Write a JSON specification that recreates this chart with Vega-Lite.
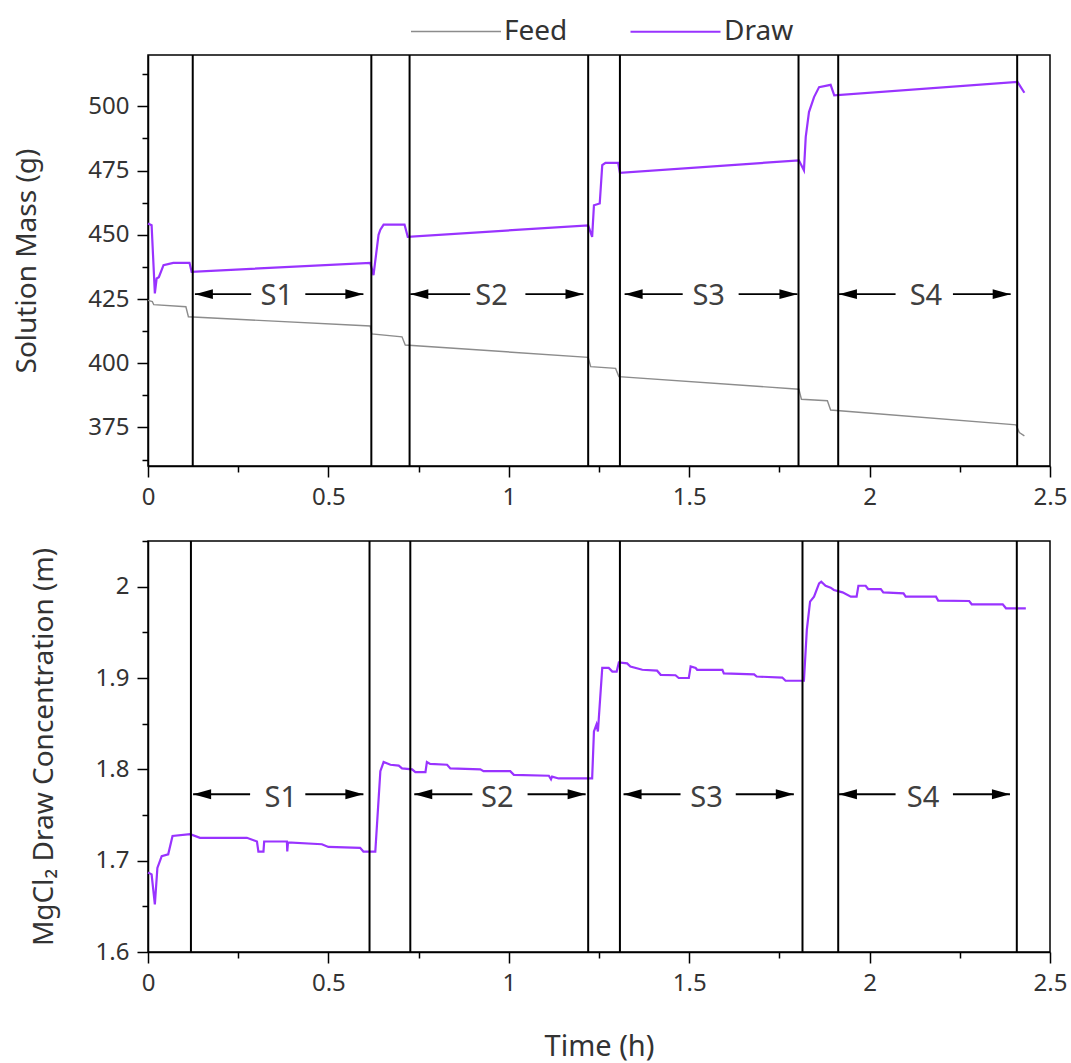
{
  "$schema": "https://vega.github.io/schema/vega-lite/v6.json",
  "padding": {"left": 13, "top": 15, "right": 3, "bottom": 0},
  "background": "white",
  "spacing": 18,
  "config": {
    "font": "Noto Sans",
    "view": {"stroke": "black", "strokeWidth": 1.5},
    "axis": {
      "domainColor": "black", "domainWidth": 1.5,
      "tickColor": "black", "tickWidth": 1.5,
      "labelFontSize": 24, "labelColor": "#333333", "labelPadding": 8,
      "labelFlush": false, "labelOverlap": false,
      "titleFontSize": 28, "titleFontWeight": "normal", "titleColor": "#333333",
      "grid": false
    }
  },
  "datasets": {
    "mass": [
      {"t": 0, "mass": 424.5, "series": "Feed"},
      {"t": 0.012, "mass": 424, "series": "Feed"},
      {"t": 0.016, "mass": 422.8, "series": "Feed"},
      {"t": 0.105, "mass": 422, "series": "Feed"},
      {"t": 0.112, "mass": 418.1, "series": "Feed"},
      {"t": 0.616, "mass": 414.5, "series": "Feed"},
      {"t": 0.62, "mass": 411.4, "series": "Feed"},
      {"t": 0.704, "mass": 410.3, "series": "Feed"},
      {"t": 0.713, "mass": 407.1, "series": "Feed"},
      {"t": 1.22, "mass": 402.3, "series": "Feed"},
      {"t": 1.227, "mass": 398.7, "series": "Feed"},
      {"t": 1.296, "mass": 398, "series": "Feed"},
      {"t": 1.305, "mass": 394.8, "series": "Feed"},
      {"t": 1.804, "mass": 389.9, "series": "Feed"},
      {"t": 1.811, "mass": 386, "series": "Feed"},
      {"t": 1.883, "mass": 385.4, "series": "Feed"},
      {"t": 1.892, "mass": 381.8, "series": "Feed"},
      {"t": 2.406, "mass": 376, "series": "Feed"},
      {"t": 2.415, "mass": 373, "series": "Feed"},
      {"t": 2.429, "mass": 371.7, "series": "Feed"},
      {"t": 0, "mass": 454.4, "series": "Draw"},
      {"t": 0.01, "mass": 453.7, "series": "Draw"},
      {"t": 0.019, "mass": 427.2, "series": "Draw"},
      {"t": 0.024, "mass": 433, "series": "Draw"},
      {"t": 0.03, "mass": 433.5, "series": "Draw"},
      {"t": 0.043, "mass": 438.2, "series": "Draw"},
      {"t": 0.07, "mass": 439.1, "series": "Draw"},
      {"t": 0.115, "mass": 439.1, "series": "Draw"},
      {"t": 0.121, "mass": 435.6, "series": "Draw"},
      {"t": 0.616, "mass": 439.1, "series": "Draw"},
      {"t": 0.625, "mass": 434.3, "series": "Draw"},
      {"t": 0.639, "mass": 450, "series": "Draw"},
      {"t": 0.644, "mass": 452, "series": "Draw"},
      {"t": 0.653, "mass": 454, "series": "Draw"},
      {"t": 0.711, "mass": 454, "series": "Draw"},
      {"t": 0.72, "mass": 449.2, "series": "Draw"},
      {"t": 1.22, "mass": 453.7, "series": "Draw"},
      {"t": 1.231, "mass": 449.2, "series": "Draw"},
      {"t": 1.236, "mass": 461.5, "series": "Draw"},
      {"t": 1.252, "mass": 462.2, "series": "Draw"},
      {"t": 1.259, "mass": 477.1, "series": "Draw"},
      {"t": 1.268, "mass": 478, "series": "Draw"},
      {"t": 1.303, "mass": 478, "series": "Draw"},
      {"t": 1.308, "mass": 474.1, "series": "Draw"},
      {"t": 1.804, "mass": 479, "series": "Draw"},
      {"t": 1.818, "mass": 475.1, "series": "Draw"},
      {"t": 1.823, "mass": 488.1, "series": "Draw"},
      {"t": 1.832, "mass": 497.8, "series": "Draw"},
      {"t": 1.846, "mass": 503.6, "series": "Draw"},
      {"t": 1.86, "mass": 507.5, "series": "Draw"},
      {"t": 1.892, "mass": 508.4, "series": "Draw"},
      {"t": 1.902, "mass": 504.3, "series": "Draw"},
      {"t": 2.41, "mass": 509.5, "series": "Draw"},
      {"t": 2.419, "mass": 507.5, "series": "Draw"},
      {"t": 2.429, "mass": 505.3, "series": "Draw"}
    ],
    "conc": [
      {"t": 0, "c": 1.687}, {"t": 0.01, "c": 1.685}, {"t": 0.019, "c": 1.652}, {"t": 0.026, "c": 1.692},
      {"t": 0.038, "c": 1.705}, {"t": 0.056, "c": 1.707}, {"t": 0.068, "c": 1.727}, {"t": 0.117, "c": 1.729},
      {"t": 0.144, "c": 1.725}, {"t": 0.274, "c": 1.725}, {"t": 0.302, "c": 1.721}, {"t": 0.306, "c": 1.71},
      {"t": 0.32, "c": 1.71}, {"t": 0.322, "c": 1.721}, {"t": 0.385, "c": 1.721}, {"t": 0.386, "c": 1.71},
      {"t": 0.388, "c": 1.72}, {"t": 0.482, "c": 1.718}, {"t": 0.5, "c": 1.715}, {"t": 0.588, "c": 1.714},
      {"t": 0.597, "c": 1.71}, {"t": 0.63, "c": 1.71}, {"t": 0.644, "c": 1.798}, {"t": 0.653, "c": 1.808},
      {"t": 0.672, "c": 1.805}, {"t": 0.695, "c": 1.804}, {"t": 0.704, "c": 1.801}, {"t": 0.732, "c": 1.8},
      {"t": 0.741, "c": 1.797}, {"t": 0.769, "c": 1.797}, {"t": 0.773, "c": 1.808}, {"t": 0.782, "c": 1.806},
      {"t": 0.829, "c": 1.805}, {"t": 0.838, "c": 1.801}, {"t": 0.921, "c": 1.8}, {"t": 0.93, "c": 1.798},
      {"t": 1.004, "c": 1.798}, {"t": 1.014, "c": 1.794}, {"t": 1.111, "c": 1.793}, {"t": 1.117, "c": 1.789},
      {"t": 1.12, "c": 1.792}, {"t": 1.138, "c": 1.79}, {"t": 1.231, "c": 1.79}, {"t": 1.236, "c": 1.8415},
      {"t": 1.243, "c": 1.849}, {"t": 1.247, "c": 1.8415}, {"t": 1.259, "c": 1.911}, {"t": 1.277, "c": 1.911},
      {"t": 1.287, "c": 1.907}, {"t": 1.299, "c": 1.907}, {"t": 1.305, "c": 1.917}, {"t": 1.328, "c": 1.916},
      {"t": 1.337, "c": 1.9126}, {"t": 1.37, "c": 1.909}, {"t": 1.411, "c": 1.908}, {"t": 1.421, "c": 1.9035},
      {"t": 1.462, "c": 1.903}, {"t": 1.471, "c": 1.9}, {"t": 1.499, "c": 1.9}, {"t": 1.504, "c": 1.9126},
      {"t": 1.518, "c": 1.911}, {"t": 1.522, "c": 1.909}, {"t": 1.592, "c": 1.909}, {"t": 1.596, "c": 1.905},
      {"t": 1.68, "c": 1.904}, {"t": 1.687, "c": 1.9016}, {"t": 1.758, "c": 1.9005}, {"t": 1.767, "c": 1.897},
      {"t": 1.818, "c": 1.897}, {"t": 1.826, "c": 1.9527}, {"t": 1.835, "c": 1.9836}, {"t": 1.846, "c": 1.989},
      {"t": 1.86, "c": 2.0036}, {"t": 1.866, "c": 2.0055}, {"t": 1.878, "c": 2.001}, {"t": 1.892, "c": 1.9989},
      {"t": 1.901, "c": 1.9964}, {"t": 1.925, "c": 1.9938}, {"t": 1.948, "c": 1.989}, {"t": 1.964, "c": 1.989},
      {"t": 1.969, "c": 2.001}, {"t": 1.989, "c": 2.001}, {"t": 1.996, "c": 1.9974}, {"t": 2.031, "c": 1.9974},
      {"t": 2.038, "c": 1.9938}, {"t": 2.094, "c": 1.9927}, {"t": 2.1, "c": 1.989}, {"t": 2.184, "c": 1.989},
      {"t": 2.19, "c": 1.9847}, {"t": 2.276, "c": 1.9843}, {"t": 2.283, "c": 1.9807}, {"t": 2.369, "c": 1.9807},
      {"t": 2.378, "c": 1.9763}, {"t": 2.433, "c": 1.9763}
    ],
    "bounds_top": [
      {"t": 0.124}, {"t": 0.619}, {"t": 0.725}, {"t": 1.22}, {"t": 1.308}, {"t": 1.803}, {"t": 1.913}, {"t": 2.409}
    ],
    "bounds_bot": [
      {"t": 0.119}, {"t": 0.614}, {"t": 0.727}, {"t": 1.22}, {"t": 1.308}, {"t": 1.814}, {"t": 1.913}, {"t": 2.408}
    ],
    "ann_top": [
      {"s": "S1", "a": 0.13, "b": 0.286, "m": 0.357, "c": 0.436, "d": 0.597},
      {"s": "S2", "a": 0.727, "b": 0.893, "m": 0.952, "c": 1.046, "d": 1.207},
      {"s": "S3", "a": 1.321, "b": 1.482, "m": 1.554, "c": 1.637, "d": 1.8},
      {"s": "S4", "a": 1.915, "b": 2.072, "m": 2.156, "c": 2.231, "d": 2.391}
    ],
    "ann_bot": [
      {"s": "S1", "a": 0.125, "b": 0.283, "m": 0.368, "c": 0.436, "d": 0.597},
      {"s": "S2", "a": 0.738, "b": 0.899, "m": 0.968, "c": 1.052, "d": 1.213},
      {"s": "S3", "a": 1.318, "b": 1.476, "m": 1.548, "c": 1.629, "d": 1.79},
      {"s": "S4", "a": 1.915, "b": 2.072, "m": 2.148, "c": 2.231, "d": 2.389}
    ]
  },
  "vconcat": [
    {
      "width": 902,
      "height": 411,
      "layer": [
        {
          "data": {"name": "mass"},
          "mark": {"type": "line"},
          "encoding": {
            "x": {"field": "t", "type": "quantitative", "scale": {"domain": [0, 2.5], "nice": false},
              "axis": {"title": null, "tickCount": 40, "values": [0, 0.25, 0.5, 0.75, 1, 1.25, 1.5, 1.75, 2, 2.25, 2.5],
                "labelExpr": "round(datum.value*4) % 2 == 0 ? toString(datum.value) : ''",
                "tickSize": {"condition": {"test": "round(datum.value*4) % 2 == 1", "value": 6}, "value": 11}}},
            "y": {"field": "mass", "type": "quantitative", "scale": {"domain": [360, 520], "nice": false, "zero": false},
              "axis": {"title": "Solution Mass (g)", "titlePadding": 46, "tickCount": 40,
                "values": [362.5, 375, 387.5, 400, 412.5, 425, 437.5, 450, 462.5, 475, 487.5, 500, 512.5],
                "labelExpr": "round(datum.value*2) % 50 == 0 ? toString(round(datum.value)) : ''",
                "tickSize": {"condition": {"test": "round(datum.value*2) % 50 == 25", "value": 6}, "value": 11}}},
            "color": {"field": "series", "type": "nominal",
              "scale": {"domain": ["Feed", "Draw"], "range": ["#8c8c8c", "#9933ff"]},
              "legend": {"orient": "none", "legendX": 292, "legendY": -40, "direction": "horizontal", "title": null,
                "symbolType": "M -3 0 L 3 0", "symbolSize": 900, "symbolStrokeWidth": 2.5,
                "labelFontSize": 28, "labelColor": "#333333", "columnPadding": 58, "labelOffset": 32}},
            "strokeWidth": {"field": "series", "type": "nominal",
              "scale": {"domain": ["Feed", "Draw"], "range": [1.4, 2.2]}, "legend": null}
          }
        },
        {
          "data": {"name": "bounds_top"},
          "mark": {"type": "rule", "color": "black", "strokeWidth": 2},
          "encoding": {"x": {"field": "t", "type": "quantitative"}}
        },
        {
          "data": {"name": "ann_top"},
          "mark": {"type": "rule", "color": "black", "strokeWidth": 1.8},
          "encoding": {
            "x": {"field": "a", "type": "quantitative"}, "x2": {"field": "b"},
            "y": {"datum": 426.9, "type": "quantitative"}
          }
        },
        {
          "data": {"name": "ann_top"},
          "mark": {"type": "rule", "color": "black", "strokeWidth": 1.8},
          "encoding": {
            "x": {"field": "c", "type": "quantitative"}, "x2": {"field": "d"},
            "y": {"datum": 426.9, "type": "quantitative"}
          }
        },
        {
          "data": {"name": "ann_top"},
          "mark": {"type": "point", "shape": "M 0 0 L 2 -0.55 L 2 0.55 Z", "filled": true, "color": "black", "opacity": 1, "size": 324},
          "encoding": {
            "x": {"field": "a", "type": "quantitative"},
            "y": {"datum": 426.9, "type": "quantitative"}
          }
        },
        {
          "data": {"name": "ann_top"},
          "mark": {"type": "point", "shape": "M 0 0 L -2 -0.55 L -2 0.55 Z", "filled": true, "color": "black", "opacity": 1, "size": 324},
          "encoding": {
            "x": {"field": "d", "type": "quantitative"},
            "y": {"datum": 426.9, "type": "quantitative"}
          }
        },
        {
          "data": {"name": "ann_top"},
          "mark": {"type": "text", "fontSize": 29, "color": "#404040", "baseline": "middle", "dy": 2},
          "encoding": {
            "x": {"field": "m", "type": "quantitative"},
            "y": {"datum": 426.9, "type": "quantitative"},
            "text": {"field": "s"}
          }
        }
      ]
    },
    {
      "width": 902,
      "height": 411,
      "layer": [
        {
          "data": {"name": "conc"},
          "mark": {"type": "line", "strokeWidth": 2.2, "color": "#9933ff"},
          "encoding": {
            "x": {"field": "t", "type": "quantitative", "scale": {"domain": [0, 2.5], "nice": false},
              "axis": {"title": "Time (h)", "titleFontSize": 29, "titlePadding": 37, "tickCount": 40,
                "values": [0, 0.25, 0.5, 0.75, 1, 1.25, 1.5, 1.75, 2, 2.25, 2.5],
                "labelExpr": "round(datum.value*4) % 2 == 0 ? toString(datum.value) : ''",
                "tickSize": {"condition": {"test": "round(datum.value*4) % 2 == 1", "value": 6}, "value": 11}}},
            "y": {"field": "c", "type": "quantitative", "scale": {"domain": [1.6, 2.05], "nice": false, "zero": false},
              "axis": {"title": "MgCl₂ Draw Concentration (m)", "titlePadding": 37, "tickCount": 40,
                "values": [1.6, 1.65, 1.7, 1.75, 1.8, 1.85, 1.9, 1.95, 2.0, 2.05],
                "labelExpr": "round(datum.value*20) % 2 == 0 ? toString(round(datum.value*10)/10) : ''",
                "tickSize": {"condition": {"test": "round(datum.value*20) % 2 == 1", "value": 6}, "value": 11}}}
          }
        },
        {
          "data": {"name": "bounds_bot"},
          "mark": {"type": "rule", "color": "black", "strokeWidth": 2},
          "encoding": {"x": {"field": "t", "type": "quantitative"}}
        },
        {
          "data": {"name": "ann_bot"},
          "mark": {"type": "rule", "color": "black", "strokeWidth": 1.8},
          "encoding": {
            "x": {"field": "a", "type": "quantitative"}, "x2": {"field": "b"},
            "y": {"datum": 1.7727, "type": "quantitative"}
          }
        },
        {
          "data": {"name": "ann_bot"},
          "mark": {"type": "rule", "color": "black", "strokeWidth": 1.8},
          "encoding": {
            "x": {"field": "c", "type": "quantitative"}, "x2": {"field": "d"},
            "y": {"datum": 1.7727, "type": "quantitative"}
          }
        },
        {
          "data": {"name": "ann_bot"},
          "mark": {"type": "point", "shape": "M 0 0 L 2 -0.55 L 2 0.55 Z", "filled": true, "color": "black", "opacity": 1, "size": 324},
          "encoding": {
            "x": {"field": "a", "type": "quantitative"},
            "y": {"datum": 1.7727, "type": "quantitative"}
          }
        },
        {
          "data": {"name": "ann_bot"},
          "mark": {"type": "point", "shape": "M 0 0 L -2 -0.55 L -2 0.55 Z", "filled": true, "color": "black", "opacity": 1, "size": 324},
          "encoding": {
            "x": {"field": "d", "type": "quantitative"},
            "y": {"datum": 1.7727, "type": "quantitative"}
          }
        },
        {
          "data": {"name": "ann_bot"},
          "mark": {"type": "text", "fontSize": 29, "color": "#404040", "baseline": "middle", "dy": 4},
          "encoding": {
            "x": {"field": "m", "type": "quantitative"},
            "y": {"datum": 1.7727, "type": "quantitative"},
            "text": {"field": "s"}
          }
        }
      ]
    }
  ]
}
